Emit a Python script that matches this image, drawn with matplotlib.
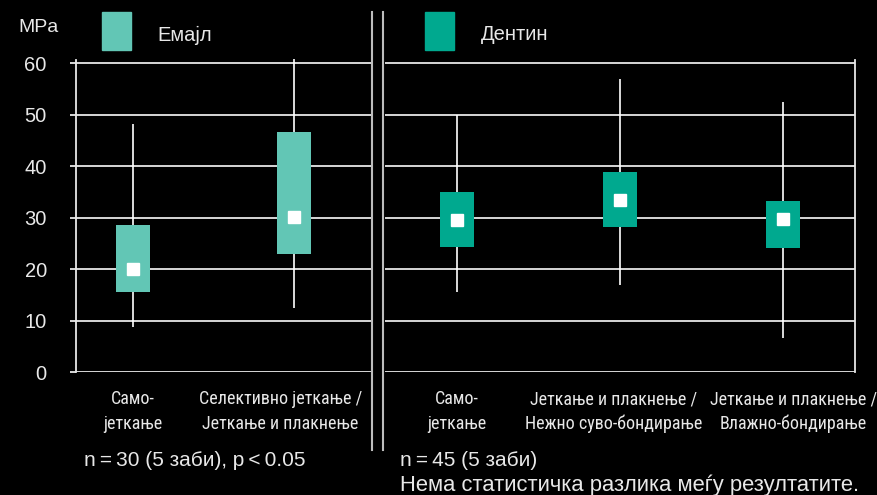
import matplotlib.pyplot as plt
from matplotlib import font_manager
from matplotlib.patches import Rectangle
from matplotlib.lines import Line2D

plt.rcParams['font.family'] = ['Liberation Sans', 'DejaVu Sans']
plt.rcParams['font.size'] = 14

# --- data (MPa) ---
enamel_labels = ["Само-\nјеткање", "Селективно јеткање /\nЈеткање и плакнење"]
enamel_min = [8.7, 12.4]
enamel_q1 = [15.5, 23.0]
enamel_mid = [20.1, 30.2]
enamel_q3 = [28.6, 46.7]
enamel_max = [48.3, 60.8]

dentin_labels = ["Само-\nјеткање", "Јеткање и плакнење /\nНежно суво-бондирање",
                 "Јеткање и плакнење /\nВлажно-бондирање"]
dentin_min = [15.5, 16.9, 6.6]
dentin_q1 = [24.4, 28.3, 24.1]
dentin_mid = [29.6, 33.5, 29.8]
dentin_q3 = [35.0, 38.9, 33.3]
dentin_max = [50.0, 57.0, 52.4]

yticks = [0, 10, 20, 30, 40, 50, 60]

c_enamel = "#62c6b5"
c_dentin = "#00a98f"
fg = "#e8e8e8"

# a condensed face for the category labels if one is around
installed = {f.name for f in font_manager.fontManager.ttflist}
narrow_size = 11
narrow = ['Liberation Sans', 'DejaVu Sans']
for cand in ['Liberation Sans Narrow', 'Roboto Condensed', 'DejaVu Sans Condensed']:
    if cand in installed:
        narrow = [cand, 'DejaVu Sans']
        narrow_size = 13
        break

fig = plt.figure(figsize=(8.78, 4.95), dpi=100, facecolor="black")
ax1 = fig.add_axes([0.0866, 0.2479, 0.337, 0.6315], facecolor="black")
ax2 = fig.add_axes([0.4385, 0.2479, 0.535, 0.6315], facecolor="black")


def draw_panel(ax, labels, lo, q1, mid, q3, hi, color, xlim, shifts):
    x = list(range(len(labels)))
    heights = [b - a for a, b in zip(q1, q3)]
    ax.vlines(x, lo, hi, color="white", lw=1.2, zorder=2, clip_on=False)
    ax.bar(x, heights, bottom=q1, width=0.21, color=color, zorder=3)
    ax.plot(x, mid, ls="none", marker="s", ms=8.5, color="white", zorder=4)
    ax.set_xlim(*xlim)
    ax.set_ylim(0, 60.7)
    ax.set_yticks(yticks)
    ax.grid(axis="y", color=fg, lw=1.3, zorder=1)
    ax.set_xticks([])
    # category labels, nudged sideways a little like in the original
    for xi, lbl, dx in zip(x, labels, shifts):
        ax.annotate(lbl, xy=(xi, 0), xycoords=("data", "axes fraction"),
                    xytext=(dx, -13), textcoords="offset points",
                    ha="center", va="top", family=narrow, fontsize=narrow_size,
                    color=fg, linespacing=1.45)
    for s in ["top", "bottom"]:
        ax.spines[s].set_visible(False)


draw_panel(ax1, enamel_labels, enamel_min, enamel_q1, enamel_mid, enamel_q3, enamel_max,
           c_enamel, (-0.35, 1.48), [0, -10])
draw_panel(ax2, dentin_labels, dentin_min, dentin_q1, dentin_mid, dentin_q3, dentin_max,
           c_dentin, (-0.44, 2.44), [0, -4.5, 7.5])

ax1.spines["left"].set_color(fg)
ax1.spines["left"].set_linewidth(1.3)
ax1.spines["right"].set_visible(False)
ax1.tick_params(axis="y", colors=fg, length=4, width=1.3, pad=17, labelsize=14.5)

ax2.spines["left"].set_visible(False)
ax2.spines["right"].set_color(fg)
ax2.spines["right"].set_linewidth(1.3)
ax2.tick_params(axis="y", left=False, labelleft=False)

# divider lines between panels
for xp in [372 / 878, 383.5 / 878]:
    fig.add_artist(Line2D([xp, xp], [1 - 12 / 495, 1 - 450 / 495], color="#bdbdbd", lw=1.5))

# legend squares and labels
fig.patches.append(Rectangle((102 / 878, 1 - 50 / 495), 29 / 878, 38 / 495,
                             transform=fig.transFigure, color=c_enamel))
fig.patches.append(Rectangle((425 / 878, 1 - 50 / 495), 29 / 878, 38 / 495,
                             transform=fig.transFigure, color=c_dentin))
fig.text(157 / 878, 1 - 35 / 495, "Емајл", color=fg, fontsize=14.5, va="center")
fig.text(481 / 878, 1 - 35 / 495, "Дентин", color=fg, fontsize=14.5, va="center")
fig.text(18 / 878, 1 - 28 / 495, "MPa", color=fg, fontsize=14, va="center")

# notes
fig.text(84 / 878, 1 - 461 / 495, "n\u2009=\u200930 (5 заби), p\u2009<\u20090.05", color=fg,
         fontsize=15, va="center")
fig.text(400 / 878, 1 - 461 / 495, "n\u2009=\u200945 (5 заби)", color=fg, fontsize=15,
         va="center")
fig.text(400 / 878, 1 - 485 / 495, "Нема статистичка разлика меѓу резултатите.", color=fg,
         fontsize=15.8, va="center")

fig.savefig("out.png", dpi=100, facecolor="black")
